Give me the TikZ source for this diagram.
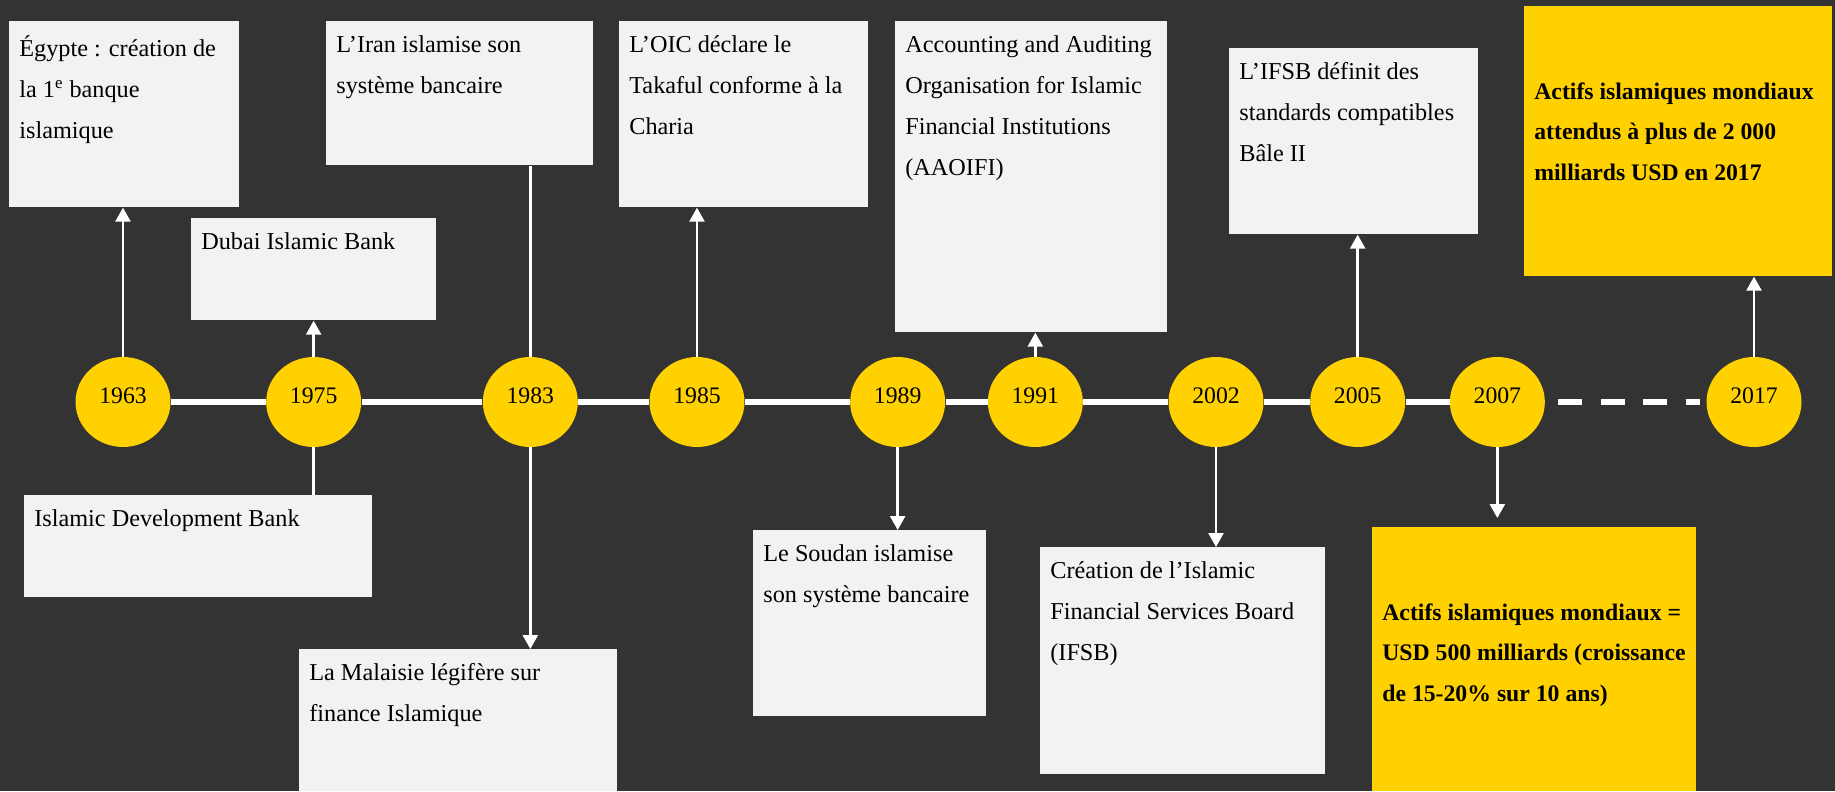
\documentclass[tikz,border=0pt]{standalone}
\usepackage{fontspec}
\setmainfont{Liberation Serif}
\usetikzlibrary{positioning,shapes.geometric,arrows.meta}

\begin{document}
\begin{tikzpicture}[x=0.02cm, y=-0.02cm,
  >={Triangle[width=0.3cm, length=0.28cm]},
  annee/.style={ellipse, fill=jaune, minimum width=1.9cm, minimum height=1.8cm,
    inner sep=0pt, text height=9pt, text depth=7pt, font=\fontsize{13.5}{16}\selectfont},
  boite/.style={fill=gris, anchor=north west, inner sep=0pt},
  boitejaune/.style={fill=jaune, anchor=north west, inner sep=0pt},
  texte/.style={anchor=north west, align=left, inner xsep=0.2cm, inner ysep=0.29cm,
    font=\fontsize{13.8}{23.3}\selectfont},
  textegras/.style={texte, inner ysep=1.52cm, font=\fontsize{13.5}{23.3}\selectfont\bfseries},
  fleche/.style={->, draw=white, line width=0.05cm},
  trait/.style={draw=white, line width=0.05cm},
  ligne/.style={draw=white, line width=0.11cm},
  pointille/.style={draw=white, line width=0.14cm, dash pattern=on 0.48cm off 0.37cm,
    shorten <=0.26cm, shorten >=0.12cm}]
  % Couleurs
  \definecolor{fond}{RGB}{51,51,51}
  \definecolor{gris}{RGB}{242,242,242}
  \definecolor{jaune}{RGB}{255,209,0}

  % Fond
  \fill[fond] (0,0) rectangle (1835,791);

  % --- Les années sur la frise ---
  \node[annee] (a1963) at (123,402) {1963};
  \node[annee, right=1.9cm of a1963] (a1975) {1975};
  \node[annee, right=2.42cm of a1975] (a1983) {1983};
  \node[annee, right=1.42cm of a1983] (a1985) {1985};
  \node[annee, right=2.1cm of a1985] (a1989) {1989};
  \node[annee, right=0.84cm of a1989] (a1991) {1991};
  \node[annee, right=1.7cm of a1991] (a2002) {2002};
  \node[annee, right=0.92cm of a2002] (a2005) {2005};
  \node[annee, right=0.88cm of a2005] (a2007) {2007};
  \node[annee, right=3.22cm of a2007] (a2017) {2017};

  % Ligne du temps
  \draw[ligne] (a1963) -- (a1975);
  \draw[ligne] (a1975) -- (a1983);
  \draw[ligne] (a1983) -- (a1985);
  \draw[ligne] (a1985) -- (a1989);
  \draw[ligne] (a1989) -- (a1991);
  \draw[ligne] (a1991) -- (a2002);
  \draw[ligne] (a2002) -- (a2005);
  \draw[ligne] (a2005) -- (a2007);
  \draw[pointille] (a2007) -- (a2017);

  % --- Événements au-dessus ---
  \node[boite, minimum width=4.6cm, minimum height=3.72cm,
    label={[texte]north west:Égypte : création de\\la 1\textsuperscript{e} banque\\islamique}] (egypte) at (9,21) {};
  \node[boite, minimum width=4.9cm, minimum height=2.04cm,
    label={[texte]north west:Dubai Islamic Bank}] (dubai) at (191,218) {};
  \node[boite, minimum width=5.34cm, minimum height=2.88cm,
    label={[texte]north west:L’Iran islamise son\\système bancaire}] (iran) at (326,21) {};
  \node[boite, minimum width=4.98cm, minimum height=3.72cm,
    label={[texte]north west:L’OIC déclare le\\Takaful conforme à la\\Charia}] (oic) at (619,21) {};
  \node[boite, minimum width=5.44cm, minimum height=6.22cm,
    label={[texte]north west:Accounting and Auditing\\Organisation for Islamic\\Financial Institutions\\(AAOIFI)}] (aaoifi) at (895,21) {};
  \node[boite, minimum width=4.98cm, minimum height=3.72cm,
    label={[texte]north west:L’IFSB définit des\\standards compatibles\\Bâle II}] (bale) at (1229,48) {};
  \node[boitejaune, minimum width=6.16cm, minimum height=5.4cm,
    label={[textegras]north west:Actifs islamiques mondiaux\\attendus à plus de 2 000\\milliards USD en 2017}] (jaune2017) at (1524,6) {};

  % --- Événements en dessous ---
  \node[boite, minimum width=6.96cm, minimum height=2.04cm,
    label={[texte]north west:Islamic Development Bank}] (bid) at (24,495) {};
  \node[boite, minimum width=6.36cm, minimum height=2.84cm,
    label={[texte]north west:La Malaisie légifère sur\\finance Islamique}] (malaisie) at (299,649) {};
  \node[boite, minimum width=4.66cm, minimum height=3.72cm,
    label={[texte]north west:Le Soudan islamise\\son système bancaire}] (soudan) at (753,530) {};
  \node[boite, minimum width=5.7cm, minimum height=4.54cm,
    label={[texte]north west:Création de l’Islamic\\Financial Services Board\\(IFSB)}] (ifsb) at (1040,547) {};
  \node[boitejaune, minimum width=6.48cm, minimum height=5.28cm,
    label={[textegras]north west:Actifs islamiques mondiaux =\\USD 500 milliards (croissance\\de 15-20\% sur 10 ans)}] (jaune2007) at (1372,527) {};

  % Flèches vers le haut
  \draw[fleche] (a1963.north) -- (a1963.north |- egypte.south);
  \draw[fleche] (a1975.north) -- (a1975.north |- dubai.south);
  \draw[trait] (a1983.north) -- (a1983.north |- iran.south);
  \draw[fleche] (a1985.north) -- (a1985.north |- oic.south);
  \draw[fleche] (a1991.north) -- (a1991.north |- aaoifi.south);
  \draw[fleche] (a2005.north) -- (a2005.north |- bale.south);
  \draw[fleche] (a2017.north) -- (a2017.north |- jaune2017.south);

  % Flèches vers le bas
  \draw[trait] (a1975.south) -- (a1975.south |- bid.north);
  \draw[fleche] (a1983.south) -- (a1983.south |- malaisie.north);
  \draw[fleche] (a1989.south) -- (a1989.south |- soudan.north);
  \draw[fleche] (a2002.south) -- (a2002.south |- ifsb.north);
  \draw[fleche, shorten >=0.18cm] (a2007.south) -- (a2007.south |- jaune2007.north);

\end{tikzpicture}
\end{document}
